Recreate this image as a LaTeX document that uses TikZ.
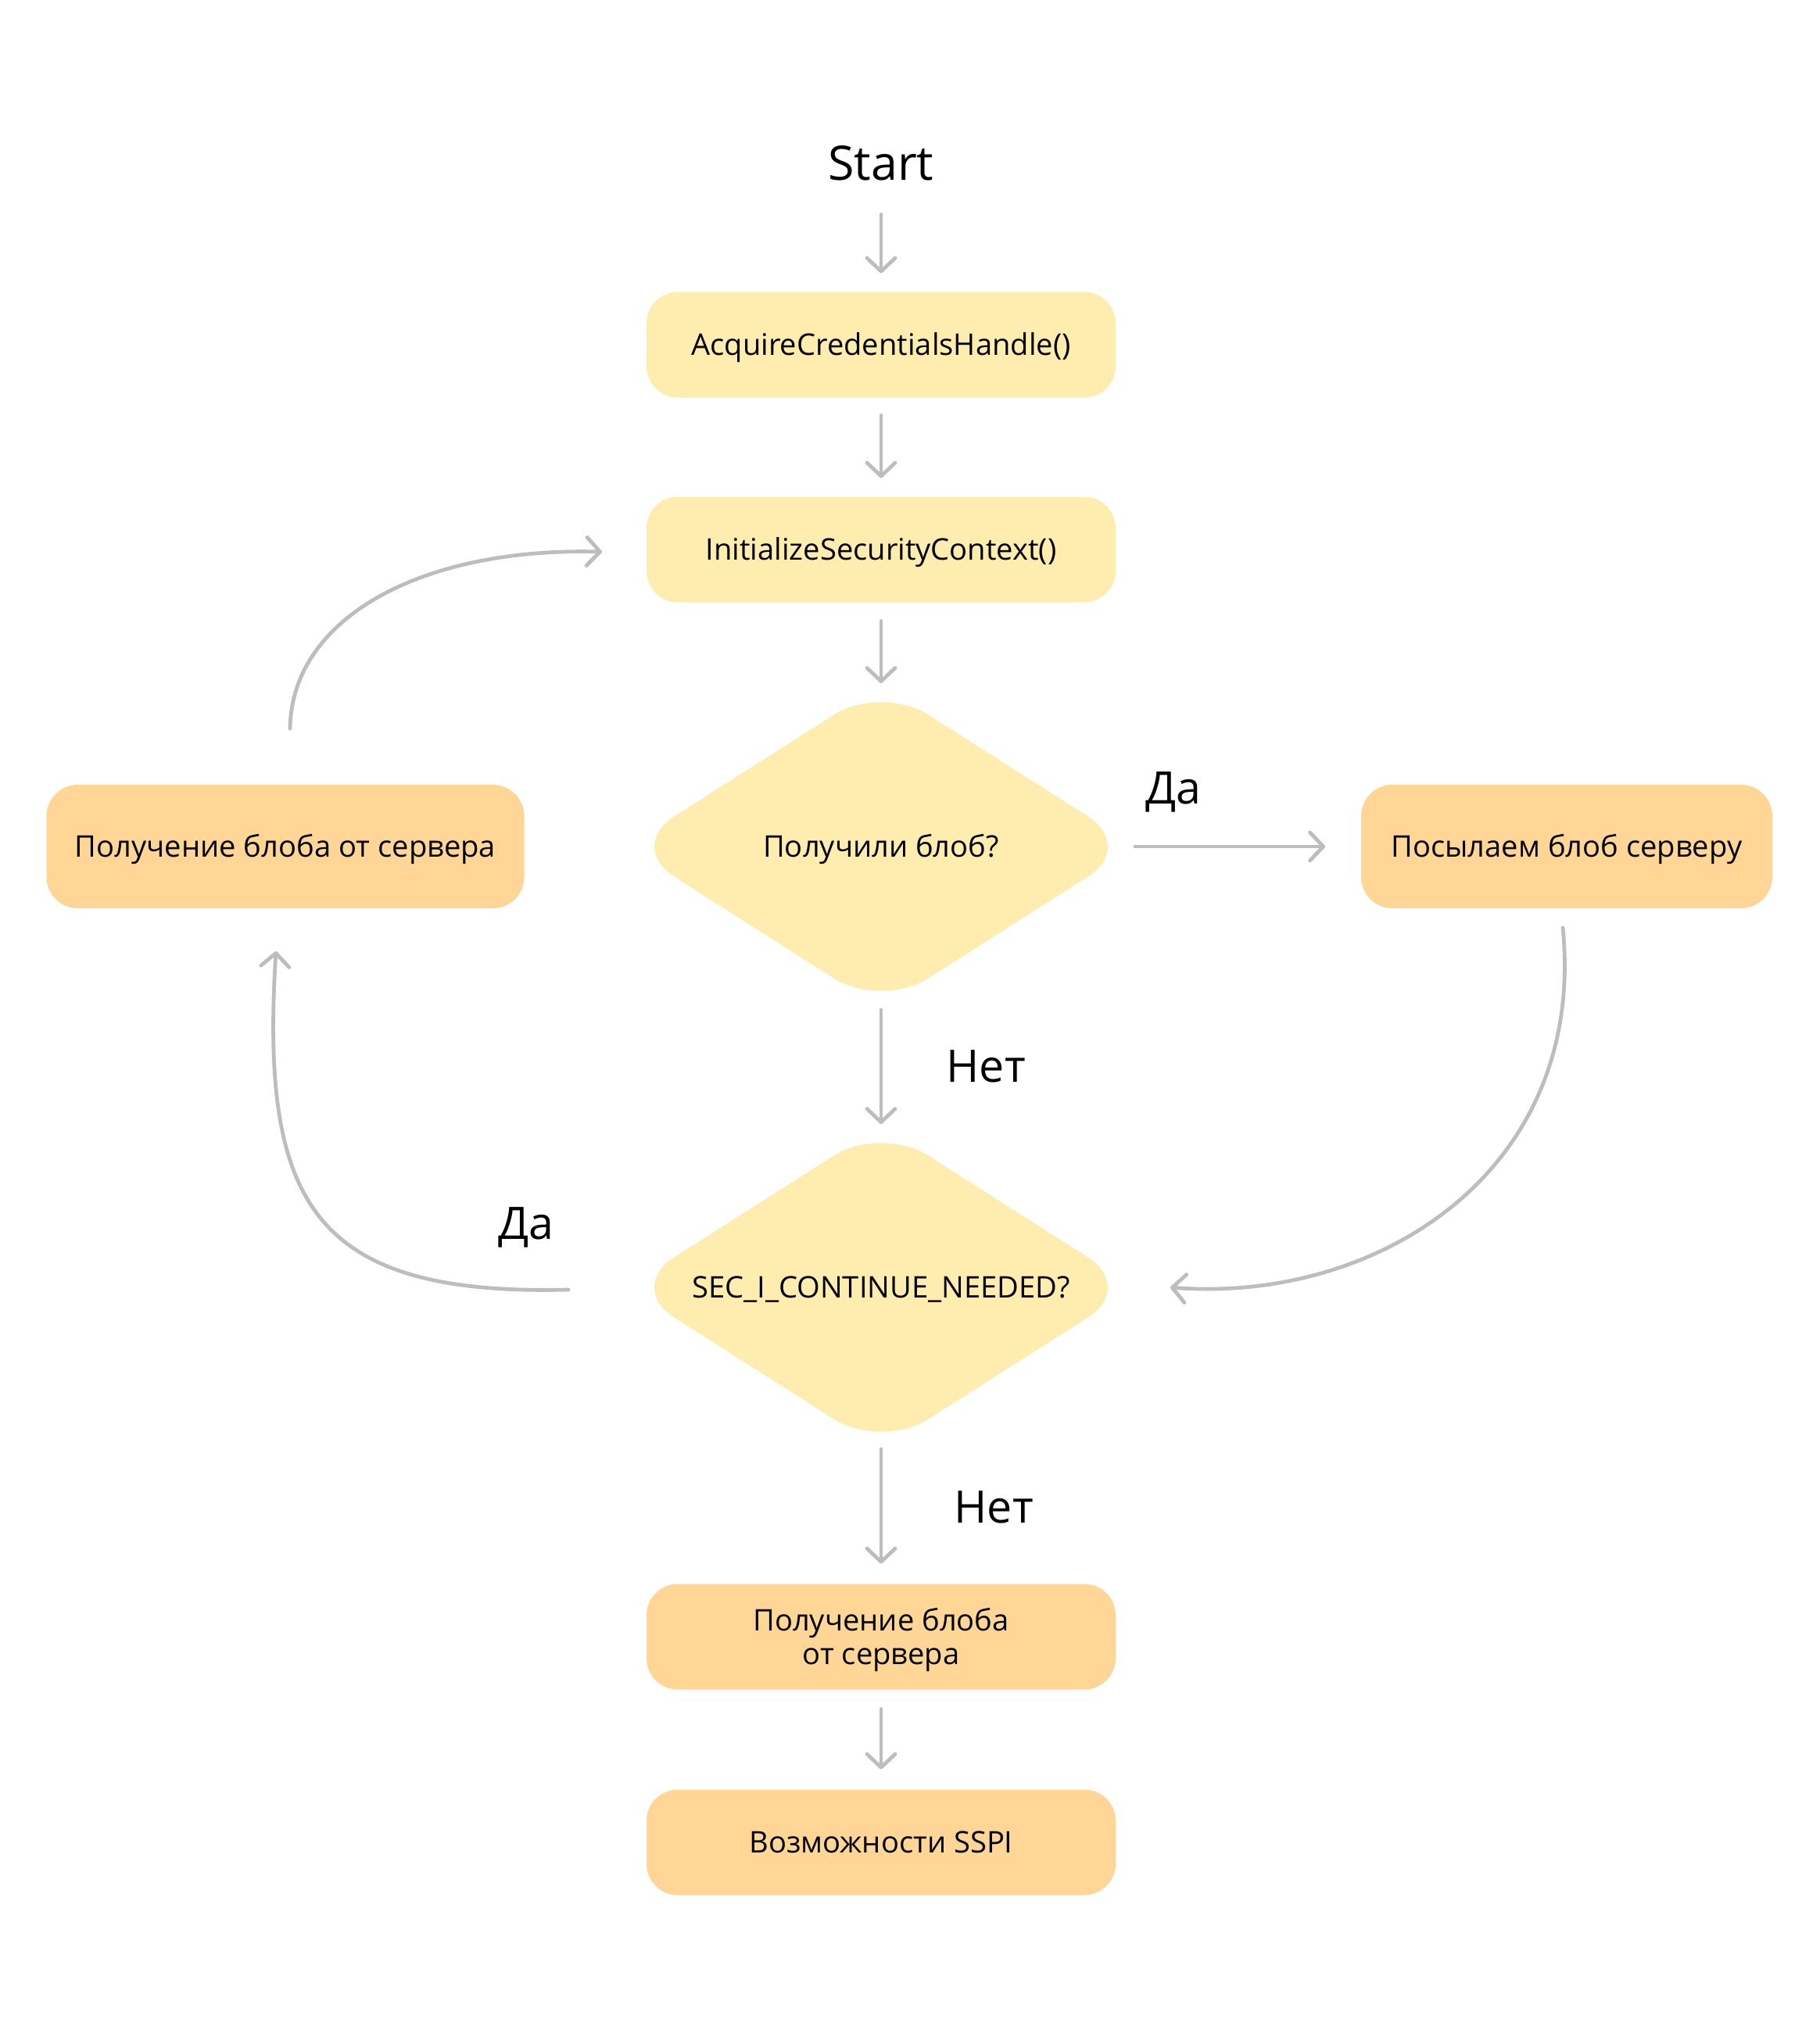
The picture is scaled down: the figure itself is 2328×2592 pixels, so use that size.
\documentclass[tikz,border=0pt]{standalone}
\usepackage{fontspec}
\setmainfont{Open Sans}
\usetikzlibrary{arrows.meta,shapes.geometric,calc}
\definecolor{boxY}{HTML}{FFEDB0}
\definecolor{boxO}{HTML}{FFD696}
\definecolor{arrG}{HTML}{BDBDBD}
\newcommand\bxfont{\fontsize{10.85pt}{12.2pt}\selectfont}
\newcommand\lbfont{\fontsize{16.3pt}{19pt}\selectfont}
\newcommand\stfont{\fontsize{17.3pt}{20pt}\selectfont}
\begin{document}
\begin{tikzpicture}[x=0.1mm,y=-0.1mm,
  box/.style={rectangle, rounded corners=4mm, minimum width=60mm, minimum height=13.5mm,
    inner sep=0pt, outer sep=0pt, font=\bxfont, align=center,
    text height=2.75mm, text depth=0pt},
  yel/.style={fill=boxY},
  org/.style={fill=boxO},
  dec/.style={diamond, aspect=1.57, minimum width=65mm, minimum height=41.4mm,
    inner sep=0pt, outer sep=0pt, fill=boxY, rounded corners=7.1mm, font=\bxfont,
    text height=2.75mm, text depth=0pt},
  lbl/.style={font=\lbfont, inner sep=0pt, anchor=base west},
  arr/.style={draw=arrG, line width=0.48mm, line cap=round,
    -{Straight Barb[length=1.7mm,width=3.6mm,round]}},
]
\useasboundingbox (0,0) rectangle (2328,2592);
\fill[white] (0,0) rectangle (2328,2592);

% nodes
\node[font=\stfont, inner sep=0pt, anchor=base] (start) at (1127,230) {Start};
\node[box,yel] (acq) at (1127,441) {AcquireCredentialsHandle()};
\node[box,yel] (isc) at (1127,703) {InitializeSecurityContext()};
\node[dec] (d1) at (1127,1083) {Получили блоб?};
\node[box,org,minimum width=52.6mm,minimum height=15.8mm] (send) at (2004,1083) {Посылаем блоб серверу};
\node[box,org,minimum width=61.1mm,minimum height=15.8mm] (recv) at (365,1083) {Получение блоба от сервера};
\node[dec] (d2) at (1127,1647) {SEC\_I\_CONTINUE\_NEEDED?};
\node[box,org,text height=7.04mm] (recv2) at (1127,2094) {Получение блоба\\от сервера};
\node[box,org] (sspi) at (1127,2357) {Возможности SSPI};

% labels
\node[lbl] (yes1) at (1465,1028) {Да};
\node[lbl] (no1) at (1210,1384) {Нет};
\node[lbl] (no2) at (1220,1948) {Нет};
\node[lbl] (yes2) at (637,1585) {Да};

% straight connectors
\draw[arr, shorten <=4.3mm, shorten >=2.4mm] (start.south) -- (acq.north);
\draw[arr, shorten <=2.3mm, shorten >=2.4mm] (acq.south) -- (isc.north);
\draw[arr, shorten <=2.4mm, shorten >=0.2mm] (isc.south) -- (d1.north);
\draw[arr, shorten <=0.2mm, shorten >=0.2mm] (d1.south) -- (d2.north);
\draw[arr, shorten >=2.6mm] (d2.south) -- (recv2.north);
\draw[arr, shorten <=2.5mm, shorten >=2.6mm] (recv2.south) -- (sspi.north);
\draw[arr, shorten >=4.6mm] (d1.east) -- (send.west);

% curved connectors
\draw[arr] ($(send.south)+(-5,25)$) .. controls +(31,313) and +(263,21) .. ($(d2.east)+(45,0)$);
\draw[arr] ($(d2.west)+(-75,3)$) .. controls +(-327,8) and +(-20,323) .. ($(recv.south)+(-12,55)$);
\draw[arr] ($(recv.north)+(6,-72)$) .. controls +(2,-142) and +(-230,-6) .. ($(isc.west)+(-57,3)$);
\end{tikzpicture}
\end{document}
